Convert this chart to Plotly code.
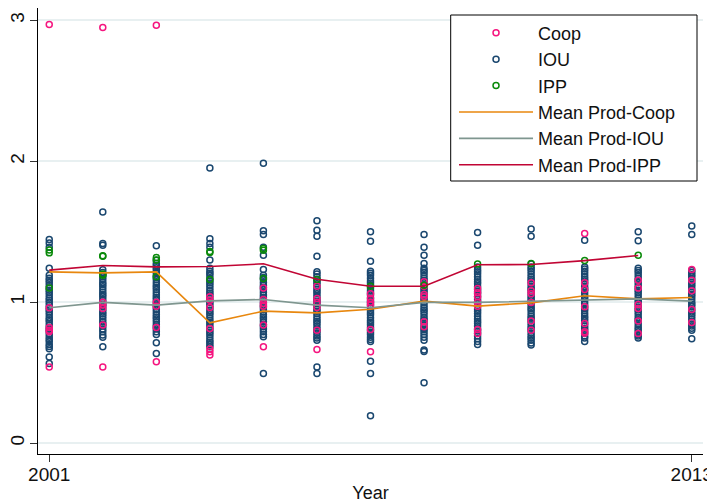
import plotly.graph_objects as go

years = list(range(2001, 2014))

iou = {
    2001: [1.445, 1.42, 1.39, 1.24,
           1.19, 1.17, 1.155, 1.14, 1.12, 1.10, 1.085, 1.07, 1.05, 1.03, 1.015, 1.00, 0.98, 0.96, 0.945, 0.93,
           0.91, 0.89, 0.875, 0.86, 0.84, 0.82, 0.805, 0.79, 0.77, 0.75, 0.735, 0.72, 0.70, 0.685, 0.67,
           0.61, 0.565],
    2002: [1.64, 1.416, 1.404,
           1.23, 1.21, 1.195, 1.18, 1.16, 1.14, 1.125, 1.11, 1.09, 1.07, 1.055, 1.04, 1.02, 1.00, 0.985, 0.97,
           0.95, 0.93, 0.915, 0.90, 0.88, 0.86, 0.845, 0.83, 0.81, 0.79,
           0.766, 0.75, 0.683],
    2003: [1.40, 1.298, 1.275,
           1.26, 1.245, 1.23, 1.21, 1.19, 1.175, 1.16, 1.14, 1.12, 1.105, 1.09, 1.07, 1.05, 1.035, 1.02, 1.00,
           0.98, 0.965, 0.95, 0.93, 0.91, 0.895, 0.88, 0.86, 0.84, 0.825, 0.81, 0.79, 0.77,
           0.711, 0.636],
    2004: [1.953, 1.45, 1.416, 1.39, 1.30,
           1.24, 1.22, 1.205, 1.19, 1.17, 1.15, 1.135, 1.12, 1.10, 1.08, 1.065, 1.05, 1.03, 1.01, 0.995, 0.98,
           0.96, 0.94, 0.925, 0.91, 0.89, 0.87, 0.855, 0.84, 0.82, 0.80, 0.785, 0.77, 0.75, 0.73, 0.715, 0.70,
           0.683],
    2005: [1.986, 1.506, 1.48, 1.39, 1.333, 1.232,
           1.19, 1.175, 1.16, 1.14, 1.12, 1.105, 1.09, 1.07, 1.05, 1.035, 1.02, 1.00, 0.98, 0.965, 0.95, 0.93,
           0.91, 0.895, 0.88, 0.86, 0.84, 0.825, 0.81, 0.79, 0.77, 0.755,
           0.494],
    2006: [1.577, 1.51, 1.468, 1.326,
           1.215, 1.20, 1.18, 1.16, 1.145, 1.13, 1.11, 1.09, 1.075, 1.06, 1.04, 1.02, 1.005, 0.99, 0.97, 0.95,
           0.935, 0.92, 0.90, 0.88, 0.865, 0.85, 0.83, 0.81, 0.795, 0.78, 0.76, 0.745, 0.73,
           0.54, 0.494],
    2007: [1.50, 1.433, 1.29,
           1.22, 1.205, 1.19, 1.17, 1.15, 1.135, 1.12, 1.10, 1.08, 1.065, 1.05, 1.03, 1.01, 0.995, 0.98, 0.96,
           0.94, 0.925, 0.91, 0.89, 0.87, 0.855, 0.84, 0.82, 0.80, 0.785, 0.77, 0.75, 0.735, 0.72,
           0.58, 0.494, 0.194],
    2008: [1.48, 1.39, 1.333, 1.274,
           1.24, 1.225, 1.21, 1.19, 1.17, 1.155, 1.14, 1.12, 1.10, 1.085, 1.07, 1.05, 1.03, 1.015, 1.00, 0.98,
           0.96, 0.945, 0.93, 0.91, 0.89, 0.875, 0.86, 0.84, 0.82, 0.805, 0.79, 0.77, 0.75, 0.73,
           0.66, 0.65, 0.428],
    2009: [1.494, 1.404,
           1.25, 1.23, 1.215, 1.20, 1.18, 1.16, 1.145, 1.13, 1.11, 1.09, 1.075, 1.06, 1.04, 1.02, 1.005, 0.99,
           0.97, 0.95, 0.935, 0.92, 0.90, 0.88, 0.865, 0.85, 0.83, 0.81, 0.795, 0.78, 0.76, 0.74, 0.72, 0.70],
    2010: [1.52, 1.468,
           1.27, 1.25, 1.235, 1.22, 1.20, 1.18, 1.165, 1.15, 1.13, 1.11, 1.095, 1.08, 1.06, 1.04, 1.025, 1.01,
           0.99, 0.97, 0.955, 0.94, 0.92, 0.90, 0.885, 0.87, 0.85, 0.83, 0.815, 0.80, 0.78, 0.76, 0.745, 0.73,
           0.71, 0.695],
    2011: [1.44,
           1.25, 1.235, 1.22, 1.20, 1.18, 1.165, 1.15, 1.13, 1.11, 1.095, 1.08, 1.06, 1.04, 1.025, 1.01, 0.99,
           0.97, 0.955, 0.94, 0.92, 0.90, 0.885, 0.87, 0.85, 0.83, 0.815, 0.80, 0.78, 0.76, 0.745, 0.72],
    2012: [1.50, 1.435,
           1.24, 1.225, 1.21, 1.19, 1.17, 1.155, 1.14, 1.12, 1.10, 1.085, 1.07, 1.05, 1.03, 1.015, 1.00, 0.98,
           0.96, 0.945, 0.93, 0.91, 0.89, 0.875, 0.86, 0.84, 0.82, 0.805, 0.79, 0.77, 0.76, 0.745],
    2013: [1.54, 1.48,
           1.225, 1.21, 1.195, 1.18, 1.16, 1.14, 1.125, 1.11, 1.09, 1.07, 1.055, 1.04, 1.02, 1.00, 0.985, 0.97,
           0.95, 0.93, 0.915, 0.90, 0.88, 0.86, 0.845, 0.83, 0.815, 0.80, 0.74],
}

# Coop observations by year
coop = {
    2001: [2.97, 0.96, 0.82, 0.80, 0.79, 0.54],
    2002: [2.95, 1.00, 0.98, 0.955, 0.837, 0.54],
    2003: [2.965, 1.00, 0.97, 0.82, 0.577],
    2004: [1.038, 1.014, 0.962, 0.813, 0.667, 0.648, 0.624],
    2005: [1.10, 1.019, 0.99, 0.97, 0.837, 0.683],
    2006: [1.113, 1.026, 1.00, 0.962, 0.80, 0.664],
    2007: [1.06, 1.026, 1.00, 0.979, 0.806, 0.648],
    2008: [1.144, 1.113, 1.055, 1.038, 0.86, 0.825],
    2009: [1.097, 1.066, 1.038, 1.00, 0.97, 0.806, 0.778],
    2010: [1.137, 1.08, 1.06, 0.998, 0.867, 0.80],
    2011: [1.487, 1.137, 1.09, 0.967, 0.849, 0.79, 0.78],
    2012: [1.156, 1.10, 0.983, 0.955, 0.867, 0.778],
    2013: [1.232, 1.156, 1.08, 0.948, 0.856],
}

# IPP observations by year
ipp = {
    2001: [1.37, 1.35, 1.10],
    2002: [1.33, 1.325, 1.20, 1.19],
    2003: [1.317, 1.30, 1.18],
    2004: [1.36, 1.352, 1.161],
    2005: [1.38, 1.369, 1.168],
    2006: [1.161],
    2007: [1.113],
    2008: [1.12],
    2009: [1.27],
    2010: [1.274],
    2011: [1.295],
    2012: [1.333],
}

# Yearly means
mean_coop = [1.215, 1.208, 1.215, 0.853, 0.936, 0.924, 0.95, 1.007, 0.972, 0.995, 1.045, 1.023, 1.033]
mean_iou = [0.96, 0.998, 0.979, 1.009, 1.019, 0.979, 0.96, 0.998, 0.998, 1.007, 1.016, 1.023, 1.007]
mean_ipp_years = list(range(2001, 2013))
mean_ipp = [1.227, 1.26, 1.25, 1.253, 1.272, 1.163, 1.113, 1.113, 1.265, 1.267, 1.295, 1.331]

C_COOP = "#f5157f"
C_IOU = "#1a476f"
C_IPP = "#0a8a0a"
C_MCOOP = "#e8870e"
C_MIOU = "#7f968f"
C_MIPP = "#c10534"


def flat(d):
    xs, ys = [], []
    for yr, vals in d.items():
        xs += [yr] * len(vals)
        ys += vals
    return xs, ys


def mk(color):
    return dict(symbol="circle-open", size=6, color=color, line=dict(width=1.5, color=color))


fig = go.Figure()
x, y = flat(iou)
fig.add_trace(go.Scatter(x=x, y=y, mode="markers", name="IOU", marker=mk(C_IOU), legendrank=2))
x, y = flat(coop)
fig.add_trace(go.Scatter(x=x, y=y, mode="markers", name="Coop", marker=mk(C_COOP), legendrank=1))
x, y = flat(ipp)
fig.add_trace(go.Scatter(x=x, y=y, mode="markers", name="IPP", marker=mk(C_IPP), legendrank=3))
fig.add_trace(go.Scatter(x=years, y=mean_coop, mode="lines", name="Mean Prod-Coop",
                         line=dict(color=C_MCOOP, width=1.6), legendrank=4))
fig.add_trace(go.Scatter(x=years, y=mean_iou, mode="lines", name="Mean Prod-IOU",
                         line=dict(color=C_MIOU, width=1.6), legendrank=5))
fig.add_trace(go.Scatter(x=mean_ipp_years, y=mean_ipp, mode="lines", name="Mean Prod-IPP",
                         line=dict(color=C_MIPP, width=1.6), legendrank=6))

# Legend frame (drawn as a paper-anchored box behind the borderless legend)
fig.add_shape(type="rect", xref="paper", yref="paper",
              x0=0.6206, x1=0.991, y0=0.6121, y1=0.9843,
              line=dict(color="black", width=1), fillcolor="white", layer="above")

# The page body adds an 8px offset; figure is sized to fill the rest of the window.
fig.update_layout(
    width=707, height=495,
    margin=dict(l=30, r=12, t=0, b=49, autoexpand=False),
    paper_bgcolor="white", plot_bgcolor="white",
    font=dict(family="Liberation Sans, Arial, sans-serif", size=19, color="#111111"),
    hovermode=False,
    legend=dict(x=0.6256, xanchor="left", y=0.9852, yanchor="top",
                borderwidth=0, bgcolor="rgba(0,0,0,0)",
                itemwidth=74, traceorder="normal",
                font=dict(size=18)),
    xaxis=dict(range=[2000.79, 2013.21], tickvals=[2001, 2013], ticks="outside", ticklen=7,
               tickcolor="#333333", showline=True, linecolor="black", linewidth=1,
               showgrid=False, zeroline=False, automargin=False, ticklabelstandoff=-4,
               title=dict(text="Year", standoff=6, font=dict(size=18))),
    yaxis=dict(range=[-0.078, 3.088], tickvals=[0, 1, 2, 3], tickangle=-90, ticks="outside",
               ticklen=7, tickcolor="#333333", showline=True, linecolor="black", linewidth=1,
               showgrid=True, gridcolor="#e8f0f1", gridwidth=1.5, zeroline=False, automargin=False,
               ticklabelstandoff=-2),
)

fig.write_html("out.html")
